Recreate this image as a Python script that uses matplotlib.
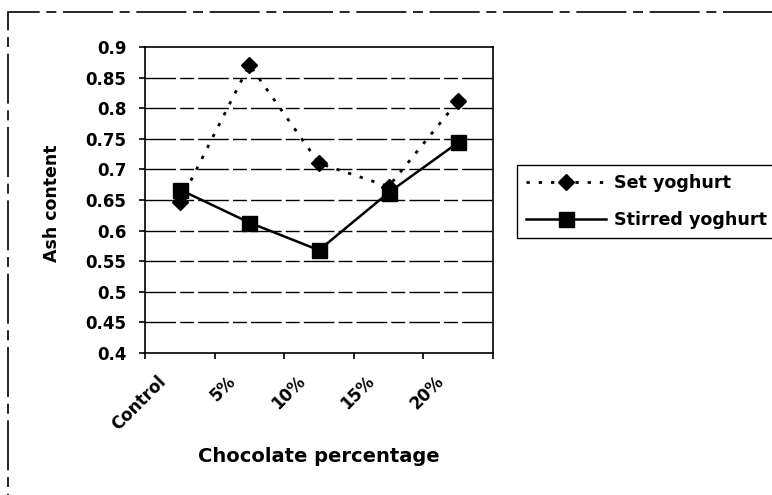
import matplotlib
matplotlib.use("Agg")
import matplotlib.pyplot as plt
from matplotlib.patches import Rectangle
import numpy as np

plt.rcParams["font.family"] = ["DejaVu Sans"]
plt.rcParams["font.weight"] = "bold"

categories = ["Control", "5%", "10%", "15%", "20%"]
set_yoghurt = [0.646, 0.871, 0.710, 0.672, 0.812]
stirred_yoghurt = [0.667, 0.613, 0.568, 0.662, 0.744]
y_ticks = [0.4, 0.45, 0.5, 0.55, 0.6, 0.65, 0.7, 0.75, 0.8, 0.85, 0.9]
y_tick_labels = ["0.4", "0.45", "0.5", "0.55", "0.6", "0.65", "0.7", "0.75", "0.8", "0.85", "0.9"]

W, H = 772, 495
fig = plt.figure(figsize=(W / 100, H / 100), dpi=100)
fig.patch.set_facecolor("white")

# plot area in pixel terms
left, right, top, bottom = 145, 493, 47, 353
ax = fig.add_axes([left / W, 1 - bottom / H, (right - left) / W, (bottom - top) / H])

x = np.arange(len(categories))
ax.plot(x, set_yoghurt, color="black", lw=2.0, linestyle=(0, (1.2, 3.2)),
        marker="D", markersize=8, markerfacecolor="black", markeredgecolor="black",
        label="Set yoghurt", zorder=3)
ax.plot(x, stirred_yoghurt, color="black", lw=1.8, linestyle="-",
        marker="s", markersize=10.8, markerfacecolor="black", markeredgecolor="black",
        label="Stirred yoghurt", zorder=4)

ax.set_xlim(-0.5, len(categories) - 0.5)
ax.set_ylim(0.4, 0.9)

# y axis
ax.set_yticks(y_ticks)
ax.set_yticklabels(y_tick_labels, fontsize=12, fontweight="bold")
ax.tick_params(axis="y", direction="out", length=4.5, width=1.2, pad=9)

# horizontal gridlines
for v in y_ticks[1:-1]:
    ax.axhline(v, color="black", lw=1.0, linestyle=(0, (22, 3, 10, 3)), zorder=1)

# x axis: ticks at category boundaries, rotated labels set left of centre
ax.set_xticks(np.arange(-0.5, len(categories)))
ax.set_xticklabels([""] * (len(categories) + 1))
ax.tick_params(axis="x", which="major", direction="out", length=4.5, width=1.2)
px_per_cat = (right - left) / len(categories)
label_offset = 23 / px_per_cat
ax.set_xticks(x - label_offset, minor=True)
ax.set_xticklabels(categories, minor=True, fontsize=12, fontweight="bold",
                   rotation=45, ha="right", va="top", rotation_mode="anchor")
ax.tick_params(axis="x", which="minor", length=0, pad=14)

for s in ax.spines.values():
    s.set_color("black")
    s.set_linewidth(1.2)

ax.set_xlabel("Chocolate percentage", fontsize=14, fontweight="bold", va="center")
ax.xaxis.set_label_coords(0.5, (bottom - 457) / (bottom - top))
ax.set_ylabel("Ash content", fontsize=12.5, fontweight="bold", va="center")
ax.yaxis.set_label_coords((52 - left) / (right - left), 0.49)

# legend
leg = fig.legend(loc="upper left", bbox_to_anchor=(517 / W, 1 - 165 / H),
                 bbox_transform=fig.transFigure, borderaxespad=0,
                 prop={"weight": "bold", "size": 12.6},
                 handlelength=4.6, handletextpad=0.45, labelspacing=1.1,
                 borderpad=0.5, fancybox=False, framealpha=1)
leg.get_frame().set_edgecolor("black")
leg.get_frame().set_linewidth(1.0)

# outer chart frame
fig.patches.append(Rectangle((8 / W, -0.1), 1.2, 1 - 12 / H + 0.1,
                             transform=fig.transFigure, fill=False,
                             edgecolor="black", lw=1.2,
                             linestyle=(0, (30, 4, 6, 4))))

fig.savefig("out.png", dpi=100, facecolor="white")
